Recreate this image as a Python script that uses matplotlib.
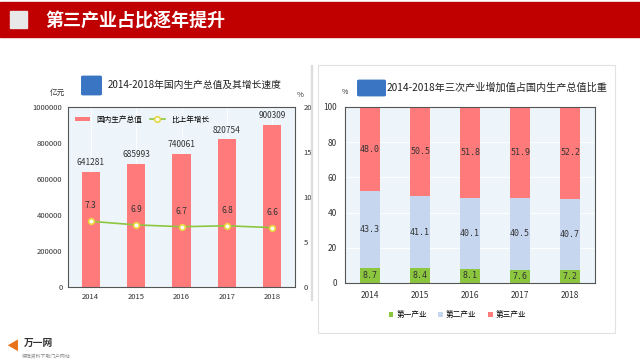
import numpy as np
import matplotlib.pyplot as plt
from matplotlib.patches import Rectangle, FancyBboxPatch

plt.rcParams['font.family'] = ['Noto Sans CJK SC', 'DejaVu Sans']

# --- datos ---
years = ['2014', '2015', '2016', '2017', '2018']
gdp = [641281, 685993, 740061, 820754, 900309]
growth = [7.3, 6.9, 6.7, 6.8, 6.6]
primary = [8.7, 8.4, 8.1, 7.6, 7.2]
secondary = [43.3, 41.1, 40.1, 40.5, 40.7]
tertiary = [48.0, 50.5, 51.8, 51.9, 52.2]

W, H = 640, 361
RED = '#FF7B7B'
GREEN = '#8CC63F'
LBLUE = '#C6D6EE'
BG = '#EDF5FA'


def px(x, y, w, h):
    # caja en pixeles (desde arriba) -> coords de figura
    return [x / W, 1 - (y + h) / H, w / W, h / H]


fig = plt.figure(figsize=(6.4, 3.61), dpi=100)

# ===== barra de titulo =====
fig.patches.append(Rectangle((0, 1 - 37 / H), 1, 35 / H, transform=fig.transFigure,
                             color='#C00000', zorder=0))
fig.patches.append(Rectangle((10 / W, 1 - 28 / H), 17 / W, 17 / H, transform=fig.transFigure,
                             color='#E8E8E8', zorder=1))
fig.text(45 / W, 1 - 20 / H, '第三产业占比逐年提升', color='white', fontsize=13,
         fontweight='bold', va='center', ha='left')

# marcos grises de los paneles
fig.patches.append(Rectangle((311 / W, 1 - 300 / H), 1 / W, 235 / H, transform=fig.transFigure,
                             color='#DDDDDD', zorder=0))
fig.patches.append(Rectangle((318 / W, 1 - 333 / H), 297 / W, 268 / H, transform=fig.transFigure,
                             fill=False, ec='#E2E2E2', lw=0.8, zorder=0))

# ===== grafico izquierdo =====
ax1 = fig.add_axes(px(68, 107, 227, 180))
ax1.set_facecolor(BG)
x = np.arange(len(years))
bars = ax1.bar(x, gdp, width=0.4, color=RED, label='国内生产总值', zorder=2)
ax1.set_ylim(0, 1000000)
ax1.set_xlim(-0.5, len(years) - 0.5)
ax1.set_yticks([0, 200000, 400000, 600000, 800000, 1000000])
ax1.set_yticklabels(['0', '200000', '400000', '600000', '800000', '1000000'])
ax1.set_xticks(x)
ax1.set_xticklabels(years)
ax1.tick_params(labelsize=5.5, length=0, colors='#333333', pad=4)
for i, v in enumerate(gdp):
    ax1.text(i, v + 25000, str(v), ha='center', va='bottom', fontsize=6, color='#333333')
for s in ax1.spines.values():
    s.set_color('#555555')
    s.set_linewidth(0.8)
ax1.grid(axis='x', color='white', lw=0.6)

ax1b = ax1.twinx()
ax1b.plot(x, growth, color=GREEN, lw=1.2, marker='o', ms=4,
          mfc='white', mec='#E8D840', mew=1.2, label='比上年增长', zorder=3)
ax1b.set_ylim(0, 20)
ax1b.set_yticks([0, 5, 10, 15, 20])
ax1b.tick_params(labelsize=5.5, length=0, colors='#333333', pad=6)
for s in ax1b.spines.values():
    s.set_visible(False)
for i, v in enumerate(growth):
    ax1b.text(i, v + 1.2, f'{v:.1f}', ha='center', va='bottom', fontsize=6, color='#333333')

h1, l1 = ax1.get_legend_handles_labels()
h2, l2 = ax1b.get_legend_handles_labels()
ax1b.legend(h1 + h2, l1 + l2, loc='upper left', ncol=2, fontsize=5.5, frameon=False,
            handlelength=2, handleheight=0.6, columnspacing=1, bbox_to_anchor=(0.0, 0.99))

fig.patches.append(FancyBboxPatch((83 / W, 1 - 94 / H), 17 / W, 17 / H,
                                  boxstyle='round,pad=0.002', transform=fig.transFigure,
                                  color='#3A75C4', zorder=1))
fig.text(108 / W, 1 - 85 / H, '2014-2018年国内生产总值及其增长速度', fontsize=7,
         va='center', ha='left', color='#222222')
fig.text(57 / W, 1 - 93 / H, '亿元', fontsize=5.5, ha='center', va='center', color='#333333')
fig.text(300 / W, 1 - 95 / H, '%', fontsize=5.5, ha='center', va='center', color='#333333')

# ===== grafico derecho =====
ax2 = fig.add_axes(px(345, 107, 250, 176))
ax2.set_facecolor(BG)
b1 = ax2.bar(x, primary, width=0.4, color=GREEN, label='第一产业', zorder=2)
b2 = ax2.bar(x, secondary, width=0.4, bottom=primary, color=LBLUE, label='第二产业', zorder=2)
bot3 = [p + s for p, s in zip(primary, secondary)]
b3 = ax2.bar(x, tertiary, width=0.4, bottom=bot3, color=RED, label='第三产业', zorder=2)
for i in range(len(years)):
    ax2.text(i, primary[i] / 2, f'{primary[i]:.1f}', ha='center', va='center',
             fontsize=6, family='DejaVu Sans Mono', color='#333333')
    ax2.text(i, primary[i] + secondary[i] / 2, f'{secondary[i]:.1f}', ha='center', va='center',
             fontsize=6, family='DejaVu Sans Mono', color='#333333')
    ax2.text(i, bot3[i] + tertiary[i] / 2, f'{tertiary[i]:.1f}', ha='center', va='center',
             fontsize=6, family='DejaVu Sans Mono', color='#333333')
ax2.set_ylim(0, 100)
ax2.set_xlim(-0.5, len(years) - 0.5)
ax2.set_yticks([0, 20, 40, 60, 80, 100])
ax2.set_xticks(x)
ax2.set_xticklabels(years)
ax2.tick_params(labelsize=6, length=0, colors='#333333', pad=6)
ax2.grid(axis='y', color='white', lw=0.6)
ax2.set_axisbelow(True)
for s in ax2.spines.values():
    s.set_color('#555555')
    s.set_linewidth(0.8)
ax2.legend(loc='upper center', bbox_to_anchor=(0.45, -0.12), ncol=3, fontsize=5.5,
           frameon=False, handlelength=0.6, handleheight=0.6, columnspacing=1.5,
           handletextpad=0.4)

fig.patches.append(FancyBboxPatch((359 / W, 1 - 95 / H), 25 / W, 14 / H,
                                  boxstyle='round,pad=0.002', transform=fig.transFigure,
                                  color='#3A75C4', zorder=1))
fig.text(387 / W, 1 - 88 / H, '2014-2018年三次产业增加值占国内生产总值比重', fontsize=7.3,
         va='center', ha='left', color='#222222')
fig.text(345 / W, 1 - 92 / H, '%', fontsize=5, ha='center', va='center', color='#333333')

# logo abajo
fig.text(6 / W, 1 - 346 / H, '◀', fontsize=9, color='#E8731A', va='center')
fig.text(24 / W, 1 - 343 / H, '万一网', fontsize=7, fontweight='bold', color='#333333', va='center')
fig.text(22 / W, 1 - 356 / H, '保险资料下载门户网站', fontsize=3.5, color='#888888', va='center')

fig.savefig('out.png', dpi=100)
